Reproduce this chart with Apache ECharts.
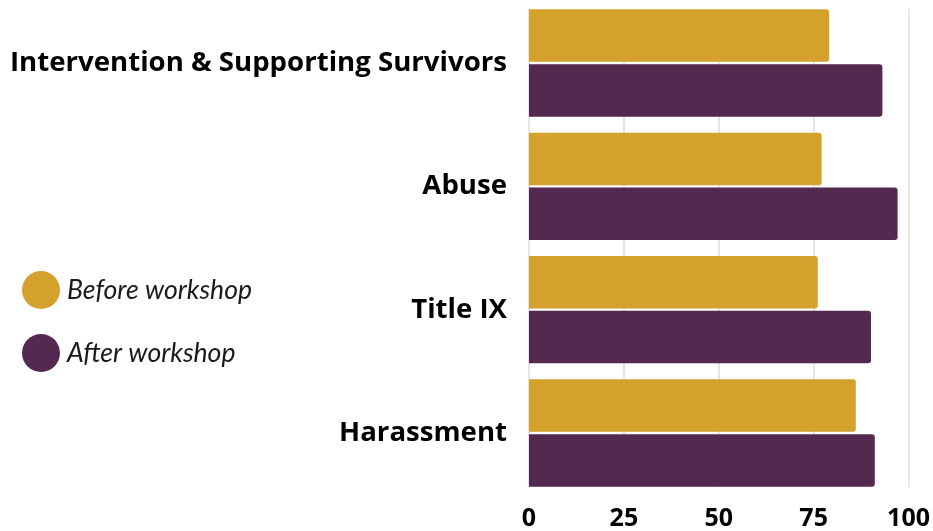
<!DOCTYPE html>
<html>
<head>
<meta charset="utf-8">
<script src="https://cdn.jsdelivr.net/npm/echarts@6/dist/echarts.min.js"></script>
<style>
html,body{margin:0;padding:0;background:#fff;}
#chart{width:933px;height:531px;}
</style>
</head>
<body>
<div id="chart"></div>
<script>
const categories = ["Intervention & Supporting Survivors", "Abuse", "Title IX", "Harassment"];
const beforeValues = [79, 77, 76, 86];
const afterValues = [93, 97, 90, 91];
const xTicks = [0, 25, 50, 75, 100];
const seriesNames = ["Before workshop", "After workshop"];

const chart = echarts.init(document.getElementById('chart'));
chart.setOption({
  animation: false,
  backgroundColor: '#ffffff',
  legend: {
    orient: 'vertical',
    left: 17,
    top: 266,
    icon: 'circle',
    itemWidth: 38,
    itemHeight: 38,
    itemGap: 25,
    data: seriesNames,
    textStyle: {
      fontFamily: 'Lato',
      fontStyle: 'italic',
      fontSize: 26.6,
      color: '#1a1a1a',
      padding: [3, 0, 0, 2]
    }
  },
  grid: [
    { left: 529, right: 24, top: 1.3, bottom: 36.3 },
    { left: 529, right: 24, top: 9, bottom: 44 }
  ],
  xAxis: [
    { gridIndex: 0, type: 'value', min: 0, max: 100, interval: 25, show: false },
    {
      gridIndex: 1, type: 'value', min: 0, max: 100, interval: 25,
      axisLine: { show: false }, axisTick: { show: false },
      splitLine: { show: true, lineStyle: { color: '#dcdcdc', width: 1.5 } },
      axisLabel: {
        margin: 19,
        fontFamily: 'Open Sans', fontWeight: 'bold', fontSize: 25, color: '#000',
        formatter: function (v) { return xTicks.indexOf(v) >= 0 ? String(v) : ''; }
      }
    }
  ],
  yAxis: [
    {
      gridIndex: 0, type: 'category', data: categories, inverse: true,
      axisLine: { show: false }, axisTick: { show: false },
      axisLabel: { margin: 22, padding: [10, 0, 0, 0], fontFamily: 'Open Sans', fontWeight: 'bold', fontSize: 27.6, color: '#000' }
    },
    { gridIndex: 1, type: 'value', show: false }
  ],
  series: [
    {
      name: seriesNames[0], type: 'bar', xAxisIndex: 0, yAxisIndex: 0,
      data: beforeValues, barGap: '4.4%', barCategoryGap: '13%',
      itemStyle: { color: '#D4A12D', borderRadius: [0, 3, 3, 0] }
    },
    {
      name: seriesNames[1], type: 'bar', xAxisIndex: 0, yAxisIndex: 0,
      data: afterValues, barGap: '4.4%', barCategoryGap: '13%',
      itemStyle: { color: '#53294F', borderRadius: [0, 3, 3, 0] }
    }
  ]
});
</script>
</body>
</html>
